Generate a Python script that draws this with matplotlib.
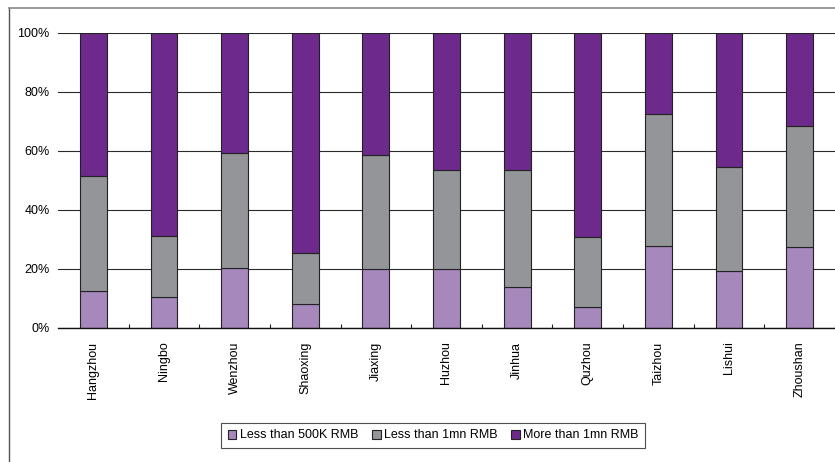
import matplotlib
matplotlib.use('Agg')
import matplotlib.pyplot as plt
from matplotlib.lines import Line2D
from matplotlib.ticker import FixedLocator, PercentFormatter

plt.rcParams['font.family'] = ['Liberation Sans', 'DejaVu Sans']

cities = ['Hangzhou', 'Ningbo', 'Wenzhou', 'Shaoxing', 'Jiaxing', 'Huzhou',
          'Jinhua', 'Quzhou', 'Taizhou', 'Lishui', 'Zhoushan']
# shares in percent
under_500k = [12.4, 10.3, 20.1, 8.0, 20.0, 20.0, 13.9, 6.9, 27.7, 19.2, 27.3]
under_1mn = [39.1, 20.9, 39.2, 17.2, 38.4, 33.5, 39.6, 23.8, 44.7, 35.2, 41.2]
over_1mn = [48.5, 68.8, 40.7, 74.8, 41.6, 46.5, 46.5, 69.3, 27.6, 45.6, 31.5]

labels = ['Less than 500K RMB', 'Less than 1mn RMB', 'More than 1mn RMB']
colors = ['#a688bc', '#939598', '#6d2a8c']

fig = plt.figure(figsize=(8.35, 4.62), dpi=100)
ax = fig.add_axes([58 / 835, 1 - 327.7 / 462, 777 / 835, 295 / 462])

x = range(len(cities))
bottom = [0] * len(cities)
for vals, lab, col in zip([under_500k, under_1mn, over_1mn], labels, colors):
    ax.bar(x, vals, 0.38, bottom=bottom, color=col, edgecolor='#222222',
           linewidth=0.8, label=lab, zorder=3)
    bottom = [b + v for b, v in zip(bottom, vals)]

ax.set_xlim(-0.5, len(cities) - 0.5)
ax.set_ylim(0, 100)
ax.set_yticks(range(0, 101, 20))
ax.yaxis.set_major_formatter(PercentFormatter(decimals=0))
ax.grid(axis='y', color='#2a2a2a', linewidth=0.8, zorder=0)
ax.set_xticks(list(x))
ax.set_xticklabels(cities, rotation=90, va='top', ha='center')
ax.xaxis.set_minor_locator(FixedLocator([i + 0.5 for i in range(len(cities))]))
ax.tick_params(axis='x', which='major', length=0, pad=10, labelsize=9)
ax.tick_params(axis='x', which='minor', direction='in', length=3, width=0.8, color='#222222')
ax.tick_params(axis='y', length=0, pad=6, labelsize=9)

for s in ['left', 'right', 'top']:
    ax.spines[s].set_visible(False)
ax.spines['bottom'].set_color('#111111')
ax.spines['bottom'].set_linewidth(1.0)
ax.spines['bottom'].set_zorder(4)

leg = fig.legend(loc='center', bbox_to_anchor=(433 / 835, 1 - 435.5 / 462), ncol=3,
                 frameon=True, fancybox=False, fontsize=9, handlelength=0.7,
                 handleheight=0.7, handletextpad=0.25, columnspacing=1.1,
                 borderpad=0.5, borderaxespad=0)
leg.get_frame().set_edgecolor('#222222')
leg.get_frame().set_linewidth(0.8)

# outer frame of the chart (left and top edges visible)
fig.add_artist(Line2D([8.5 / 835, 8.5 / 835], [0, 1 - 8 / 462], color='#555555', linewidth=1.0))
fig.add_artist(Line2D([8.5 / 835, 1], [1 - 8 / 462, 1 - 8 / 462], color='#888888', linewidth=1.2))

fig.savefig('out.png', dpi=100)
